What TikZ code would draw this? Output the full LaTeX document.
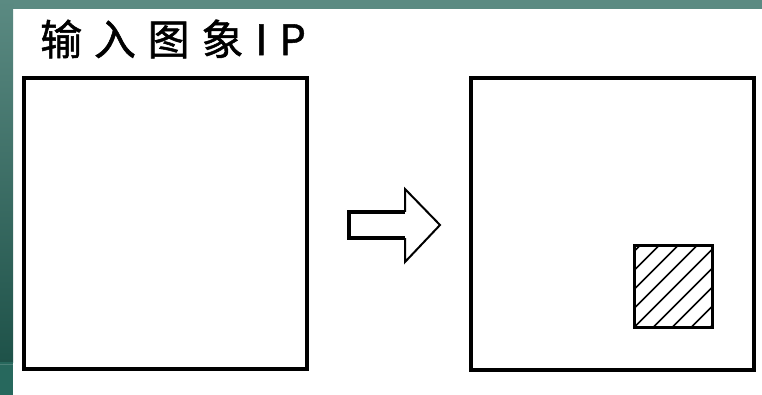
\documentclass[tikz,border=0pt]{standalone}
\usepackage{fontspec}
\newfontfamily\cjk[LetterSpace=28,FakeBold=1.2]{Noto Sans CJK SC}
\definecolor{bartop}{HTML}{5B8A82}
\definecolor{barmid}{HTML}{3A6C64}
\definecolor{barbot}{HTML}{1E5249}
\definecolor{barfoot}{HTML}{27685D}
\tikzset{
  frame/.style={draw=black, line width=4pt},
  target/.style={draw=black, line width=3pt},
  hatch/.style={draw=black, line width=1.6pt},
  shaft/.style={draw=black, line width=3.5pt, line join=miter},
  head/.style={draw=black, line width=2pt},
}
\begin{document}
\begin{tikzpicture}[x=1pt,y=-1pt]
\useasboundingbox (0,0) rectangle (762,395);
\fill[white] (0,0) rectangle (762,395);
% green border strips
\fill[bartop] (0,0) rectangle (762,9);
\shade[top color=bartop, bottom color=barbot] (0,0) rectangle (13,362);
\fill[barfoot] (0,362) rectangle (13,395);
\fill[bartop!70!barfoot] (0,363.5) rectangle (13,365);
% title
\node[anchor=west, inner sep=0pt, font=\cjk\fontsize{42}{42}\selectfont] (title) at (40,39) {输入图象IP};
% input image frame
\draw[frame] (24,78) rectangle (307,369);
% output image frame
\draw[frame] (471,78) rectangle (754,370);
% arrow
\draw[shaft] (405,212) -- (349,212) -- (349,238) -- (405,238);
\draw[head] (405,212) -- (405,189) -- (440,225) -- (405,262) -- (405,238);
% hatched region
\begin{scope}
\clip (634,245.5) rectangle (712,327.5);
\foreach \c in {-95,-76,...,95} {
  \draw[hatch] (634+\c,327.5) -- (634+\c+82,245.5);
}
\end{scope}
\draw[target] (634,245.5) rectangle (712,327.5);
\end{tikzpicture}
\end{document}
